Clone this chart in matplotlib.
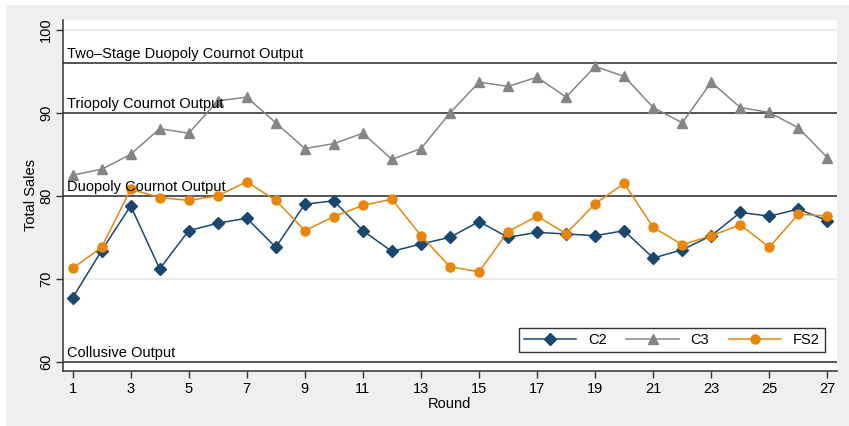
import matplotlib
matplotlib.use("Agg")
import matplotlib.pyplot as plt
from matplotlib.patches import Rectangle

plt.rcParams['font.family'] = ['Liberation Sans', 'DejaVu Sans']

rounds = list(range(1, 28))
c2 = [67.7, 73.4, 78.8, 71.2, 75.8, 76.7, 77.3, 73.8, 79.0, 79.4,
      75.8, 73.3, 74.2, 75.0, 76.9, 75.0, 75.6, 75.4, 75.2, 75.8,
      72.5, 73.5, 75.2, 78.0, 77.55, 78.4, 77.0]
c3 = [82.5, 83.2, 85.0, 88.1, 87.55, 91.45, 91.9, 88.8, 85.7, 86.3,
      87.55, 84.4, 85.7, 90.0, 93.7, 93.2, 94.3, 91.9, 95.6, 94.4,
      90.65, 88.8, 93.7, 90.65, 90.05, 88.2, 84.6]
fs2 = [71.25, 73.8, 80.8, 79.8, 79.45, 80.0, 81.7, 79.45, 75.8, 77.5,
       78.85, 79.6, 75.2, 71.45, 70.85, 75.7, 77.55, 75.45, 79.05, 81.5,
       76.2, 74.1, 75.2, 76.5, 73.8, 77.8, 77.55]

ref_values = [96, 90, 80, 60]
ref_labels = ["Two\u2013Stage Duopoly Cournot Output", "Triopoly Cournot Output",
              "Duopoly Cournot Output", "Collusive Output"]

navy = "#1a476f"
grey = "#858585"
orange = "#e8860c"
fs = 10.5

fig = plt.figure(figsize=(8.49, 4.26), dpi=100, facecolor="white")
fig.patches.append(Rectangle((6 / 849, 0), 1, (426 - 5) / 426, transform=fig.transFigure,
                             facecolor="#efefef", edgecolor="none", zorder=-10))

ax = fig.add_axes([63 / 849, (426 - 370.7) / 426, (836.7 - 63) / 849, (370.7 - 20) / 426])
ax.set_facecolor("white")

for v in [70, 100]:
    ax.axhline(v, color="#e8e8e8", lw=1.2, zorder=0)

for v, lab in zip(ref_values, ref_labels):
    ax.axhline(v, color="#555555", lw=1.4, zorder=1)
    ax.text(0.81, v + 0.62, lab, fontsize=fs, color="black", va="baseline", ha="left", zorder=5)

ax.plot(rounds, c2, color=navy, lw=1.1, marker="D", ms=6.5, label="C2", zorder=3)
ax.plot(rounds, c3, color=grey, lw=1.1, marker="^", ms=7, label="C3", zorder=3)
ax.plot(rounds, fs2, color=orange, lw=1.1, marker="o", ms=6.5, label="FS2", zorder=3)

ax.set_xlim(0.67, 27.32)
ax.set_ylim(58.92, 101.2)
ax.set_xticks(range(1, 28, 2))
ax.set_yticks(range(60, 101, 10))
ax.tick_params(axis="both", labelsize=fs, length=5, width=1, color="#333333")
ax.tick_params(axis="y", pad=2)
ax.tick_params(axis="x", pad=3)
for t in ax.get_yticklabels():
    t.set_rotation(90)
    t.set_va("center")

for s in ["top", "right"]:
    ax.spines[s].set_visible(False)
for s in ["left", "bottom"]:
    ax.spines[s].set_color("#333333")
    ax.spines[s].set_linewidth(1.1)

ax.set_xlabel("Round", fontsize=fs, labelpad=1)
ax.set_ylabel("Total Sales", fontsize=fs, labelpad=1)

leg = ax.legend(loc="lower left", bbox_to_anchor=(0.589, 0.053, 0.396, 0.08), mode="expand",
                ncol=3, fontsize=fs, frameon=True, fancybox=False, edgecolor="black",
                handlelength=3.6, borderaxespad=0, borderpad=0.35, handletextpad=0.8,
                columnspacing=1.5)
leg.get_frame().set_linewidth(1.0)

fig.savefig("out.png", dpi=100, facecolor=fig.get_facecolor())
